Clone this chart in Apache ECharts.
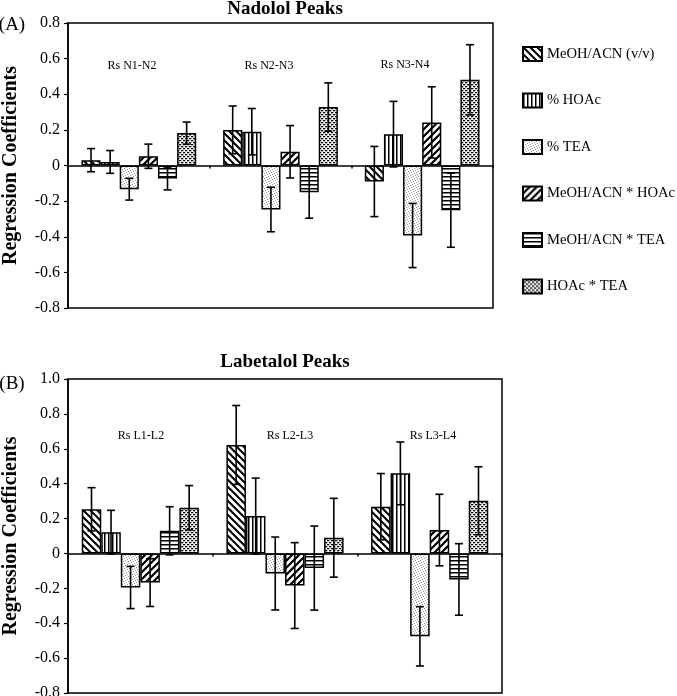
<!DOCTYPE html>
<html><head><meta charset="utf-8">
<script src="https://cdn.jsdelivr.net/npm/echarts@6/dist/echarts.min.js"></script>
<style>html,body{margin:0;padding:0;background:#fff}#c{width:677px;height:696px}</style>
</head><body><div id="c"></div>
<script>
// ---------- data ----------
const factors = ['MeOH/ACN (v/v)', '% HOAc', '% TEA', 'MeOH/ACN * HOAc', 'MeOH/ACN * TEA', 'HOAc * TEA'];
const nadololGroups = ['Rs N1-N2', 'Rs N2-N3', 'Rs N3-N4'];
const labetalolGroups = ['Rs L1-L2', 'Rs L2-L3', 'Rs L3-L4'];
const nadololTicks = [-0.8, -0.6, -0.4, -0.2, 0, 0.2, 0.4, 0.6, 0.8];
const labetalolTicks = [-0.8, -0.6, -0.4, -0.2, 0, 0.2, 0.4, 0.6, 0.8, 1.0];
// values per factor, one entry per group
const nadololValues = [
  [0.03, 0.20, -0.09],
  [0.02, 0.19, 0.176],
  [-0.133, -0.247, -0.393],
  [0.052, 0.077, 0.242],
  [-0.073, -0.150, -0.251],
  [0.182, 0.328, 0.481]
];
const nadololErrors = [
  [0.065, 0.134, 0.197],
  [0.064, 0.13, 0.184],
  [0.061, 0.125, 0.18],
  [0.068, 0.147, 0.2],
  [0.064, 0.146, 0.208],
  [0.062, 0.136, 0.197]
];
const labetalolValues = [
  [0.253, 0.622, 0.268],
  [0.122, 0.214, 0.459],
  [-0.195, -0.115, -0.475],
  [-0.167, -0.184, 0.134],
  [0.130, -0.084, -0.149],
  [0.262, 0.09, 0.302]
];
const labetalolErrors = [
  [0.124, 0.226, 0.19],
  [0.125, 0.218, 0.18],
  [0.121, 0.209, 0.17],
  [0.137, 0.246, 0.205],
  [0.138, 0.241, 0.205],
  [0.127, 0.226, 0.195]
];

// ---------- patterns ----------
function tile(w, h, draw) {
  const c = document.createElement('canvas');
  c.width = w; c.height = h;
  const g = c.getContext('2d');
  g.fillStyle = '#fff'; g.fillRect(0, 0, w, h);
  draw(g, w, h);
  return { image: c, repeat: 'repeat' };
}
function diag(g, s, dir, lw) {
  g.strokeStyle = '#000'; g.lineWidth = lw; g.lineCap = 'square';
  g.beginPath();
  for (let k = -1; k <= 1; k++) {
    if (dir > 0) { // "\"
      g.moveTo(k * s, 0); g.lineTo(k * s + s, s);
    } else { // "/"
      g.moveTo(k * s, s); g.lineTo(k * s + s, 0);
    }
  }
  g.stroke();
}
const patterns = [
  tile(7, 7, (g, w) => diag(g, w, 1, 2)),
  tile(4, 4, (g) => { g.fillStyle = '#000'; g.fillRect(0, 0, 1.5, 4); }),
  tile(5, 5, (g) => { g.fillStyle = '#999'; [[0,0],[3,1],[1,2],[4,3],[2,4]].forEach(p => g.fillRect(p[0], p[1], 1, 1)); }),
  tile(7, 7, (g, w) => diag(g, w, -1, 2.2)),
  tile(4, 4, (g) => { g.fillStyle = '#000'; g.fillRect(0, 0, 4, 1.5); }),
  tile(4, 4, (g) => { g.fillStyle = '#000'; [[0,0],[2,2],[1,2],[3,0]].forEach(p => g.fillRect(p[0], p[1], 1.3, 1.3)); })
];

const FONT = 'Liberation Serif';
const barFrac = 0.135;

function errorSeries(values, errors, fi, axisIdx) {
  return {
    type: 'custom',
    name: 'err' + axisIdx + '_' + fi,
    xAxisIndex: axisIdx, yAxisIndex: axisIdx,
    z: 5,
    data: values.map((v, ci) => [ci, v - errors[ci], v + errors[ci]]),
    renderItem: function (params, api) {
      const ci = api.value(0);
      const c = api.coord([ci, 0]);
      const band = api.size([1, 0])[0];
      const bw = band * barFrac;
      const x = c[0] + (fi - 2.5) * bw;
      const y1 = api.coord([ci, api.value(1)])[1];
      const y2 = api.coord([ci, api.value(2)])[1];
      const cap = 4;
      const st = { stroke: '#000', lineWidth: 1.6 };
      return {
        type: 'group',
        children: [
          { type: 'line', shape: { x1: x, y1: y1, x2: x, y2: y2 }, style: st },
          { type: 'line', shape: { x1: x - cap, y1: y1, x2: x + cap, y2: y1 }, style: st },
          { type: 'line', shape: { x1: x - cap, y1: y2, x2: x + cap, y2: y2 }, style: st }
        ]
      };
    }
  };
}

function barSeries(values, fi, axisIdx) {
  return {
    type: 'bar',
    name: factors[fi],
    xAxisIndex: axisIdx, yAxisIndex: axisIdx,
    barWidth: (barFrac * 100) + '%',
    barGap: '0%',
    itemStyle: { color: patterns[fi], borderColor: '#000', borderWidth: 1.5 },
    emphasis: { disabled: true },
    data: values
  };
}

const series = [];
factors.forEach((f, fi) => series.push(barSeries(nadololValues[fi], fi, 0)));
factors.forEach((f, fi) => series.push(barSeries(labetalolValues[fi], fi, 1)));
factors.forEach((f, fi) => series.push(errorSeries(nadololValues[fi], nadololErrors[fi], fi, 0)));
factors.forEach((f, fi) => series.push(errorSeries(labetalolValues[fi], labetalolErrors[fi], fi, 1)));

function yAxis(idx, ticks) {
  return {
    type: 'value', gridIndex: idx,
    min: ticks[0], max: ticks[ticks.length - 1], interval: 0.2,
    name: 'Regression Coefficients', nameLocation: 'middle', nameGap: 47,
    nameTextStyle: { fontFamily: FONT, fontWeight: 'bold', fontSize: 20, color: '#000' },
    axisLine: { show: true, lineStyle: { color: '#000', width: 1.5 } },
    axisTick: { show: true, length: 4, lineStyle: { color: '#000', width: 1.2 } },
    splitLine: { show: false },
    axisLabel: { fontFamily: FONT, fontSize: 16, color: '#000', margin: 8,
      formatter: v => Math.abs(v) < 1e-9 ? '0' : v.toFixed(1) }
  };
}
function xAxis(idx, cats) {
  return {
    type: 'category', gridIndex: idx, data: cats,
    axisLine: { onZero: true, lineStyle: { color: '#000', width: 1.5 } },
    axisTick: { show: true, length: 3, lineStyle: { color: '#000', width: 1.5 } },
    axisLabel: { show: false },
    splitLine: { show: false }
  };
}

function txt(x, y, text, size, bold, align) {
  return { type: 'text', x: x, y: y, silent: true,
    style: { text: text, fontFamily: FONT, fontSize: size, fontWeight: bold ? 'bold' : 'normal',
      fill: '#000', textAlign: align || 'center', textVerticalAlign: 'middle' } };
}

const chart = echarts.init(document.getElementById('c'));
chart.setOption({
  animation: false,
  backgroundColor: '#fff',
  grid: [
    { left: 68, top: 23, width: 425, height: 285, outerBoundsMode: 'none', containLabel: false,
      show: true, borderColor: '#000', borderWidth: 1.5, backgroundColor: 'transparent' },
    { left: 68, top: 379, width: 434, height: 314, outerBoundsMode: 'none', containLabel: false,
      show: true, borderColor: '#000', borderWidth: 1.5, backgroundColor: 'transparent' }
  ],
  xAxis: [xAxis(0, nadololGroups), xAxis(1, labetalolGroups)],
  yAxis: [yAxis(0, nadololTicks), yAxis(1, labetalolTicks)],
  legend: {
    data: factors.map(f => ({ name: f, icon: 'rect' })), orient: 'vertical', left: 517, top: 41,
    itemWidth: 19, itemHeight: 14, itemGap: 30.5, itemTextGap: 10,
    selectedMode: false,
    textStyle: { fontFamily: FONT, fontSize: 14.6, color: '#000' }
  },
  graphic: [
    txt(285, 9, 'Nadolol Peaks', 19, true),
    txt(285, 362, 'Labetalol Peaks', 19, true),
    txt(12, 25, '(A)', 19, false),
    txt(12, 384, '(B)', 19, false),
    txt(132, 66, nadololGroups[0], 12, false),
    txt(269, 66, nadololGroups[1], 12, false),
    txt(405, 65, nadololGroups[2], 12, false),
    txt(141, 436, labetalolGroups[0], 12, false),
    txt(290, 436, labetalolGroups[1], 12, false),
    txt(433, 436, labetalolGroups[2], 12, false)
  ],
  series: series
});
</script>
</body></html>
